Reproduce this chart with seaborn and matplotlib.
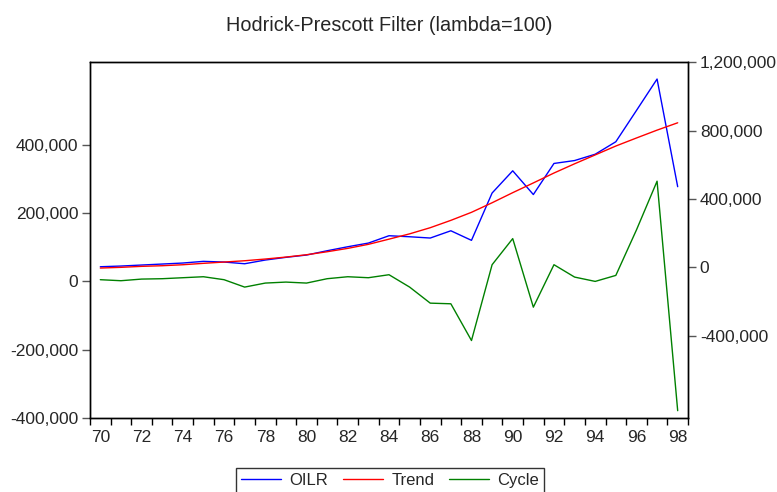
import matplotlib
matplotlib.use('Agg')
import matplotlib.pyplot as plt
import seaborn as sns
import pandas as pd
import numpy as np
from matplotlib.ticker import FuncFormatter, FixedLocator

years = list(range(1970, 1999))
oilr = [3500, 7600, 13500, 19300, 25200, 35000, 31000, 21000, 42700, 58500,
        72000, 97100, 120500, 142000, 185000, 179000, 171500, 214000, 158000,
        435000, 565000, 426000, 608000, 625000, 662000, 735000, 918000,
        1102000, 472000]
trend = [-4100, 0, 5800, 9400, 15200, 23400, 31000, 38600, 48600, 60000,
         73700, 91300, 111000, 134600, 165000, 196000, 232000, 275000, 322000,
         378000, 437000, 494000, 552000, 606000, 658000, 710000, 757000,
         803000, 846000]
cycle = [5000, 2000, 6800, 7900, 10800, 13700, 5000, -16700, -4900, -2000,
         -4900, 7900, 13700, 10800, 19600, -16700, -63800, -65700, -173500,
         49000, 125600, -75600, 49000, 12700, 0, 17600, 151000, 294100,
         -379400]
left_ticks = [-400000, -200000, 0, 200000, 400000]
right_ticks = [-400000, 0, 400000, 800000, 1200000]
title = "Hodrick-Prescott Filter (lambda=100)"

sns.set_style('ticks')
plt.rcParams['font.family'] = ['Liberation Sans', 'DejaVu Sans']
plt.rcParams['font.size'] = 12

df = pd.DataFrame({'year': years, 'OILR': oilr, 'Trend': trend, 'Cycle': cycle})

W, H = 777, 492
fig = plt.figure(figsize=(W / 100, H / 100), dpi=100)
ax = fig.add_axes([90 / W, 1 - 417.7 / H, (688 - 90) / W, (417.7 - 62.3) / H])
ax2 = ax.twinx()

sns.lineplot(data=df, x='year', y='Cycle', ax=ax, color='#008000', lw=1, label='Cycle', legend=False)
sns.lineplot(data=df, x='year', y='OILR', ax=ax2, color='#0000ff', lw=1, label='OILR', legend=False)
sns.lineplot(data=df, x='year', y='Trend', ax=ax2, color='#ff0000', lw=1, label='Trend', legend=False)

ax.set_xlim(1969.5, 1998.5)
ax.set_ylim(-400000, 643000)
ax2.set_ylim(-880000, 1200000)

fmt = FuncFormatter(lambda v, p: f'{int(round(v)):,}')
ax.yaxis.set_major_locator(FixedLocator(left_ticks))
ax2.yaxis.set_major_locator(FixedLocator(right_ticks))
ax.yaxis.set_major_formatter(fmt)
ax2.yaxis.set_major_formatter(fmt)

ax.set_xticks(years[::2])
ax.set_xticklabels([f'{y % 100:02d}' for y in years[::2]])
ax.xaxis.set_minor_locator(FixedLocator(list(np.arange(1969.5, 1999.0, 1.0))))
ax.tick_params(axis='x', which='major', length=0, pad=9, labelsize=12.5)
ax.tick_params(axis='x', which='minor', length=5, width=1, direction='out', color='black')
ax.tick_params(axis='y', length=5.5, width=1, pad=3, direction='out', labelsize=12.5, color='#555555')
ax2.tick_params(axis='y', length=5.5, width=1, pad=3, direction='out', labelsize=12.5, color='#555555')

for a in (ax, ax2):
    a.set_xlabel('')
    a.set_ylabel('')
    for s in a.spines.values():
        s.set_color('black')
        s.set_linewidth(1)

ax.set_title(title, fontsize=14.3, pad=22.5)

h_cycle = ax.get_lines()[0]
h_oilr, h_trend = ax2.get_lines()[0], ax2.get_lines()[1]
leg = fig.legend([h_oilr, h_trend, h_cycle], ['OILR', 'Trend', 'Cycle'],
                 loc='upper center', bbox_to_anchor=(390 / W, 1 - 468 / H),
                 ncol=3, frameon=True, fancybox=False, edgecolor='black',
                 fontsize=12, handlelength=2.4, handletextpad=0.5,
                 columnspacing=0.9, borderpad=0.3, borderaxespad=0)
leg.get_frame().set_linewidth(1)

fig.savefig('out.png', dpi=100)
